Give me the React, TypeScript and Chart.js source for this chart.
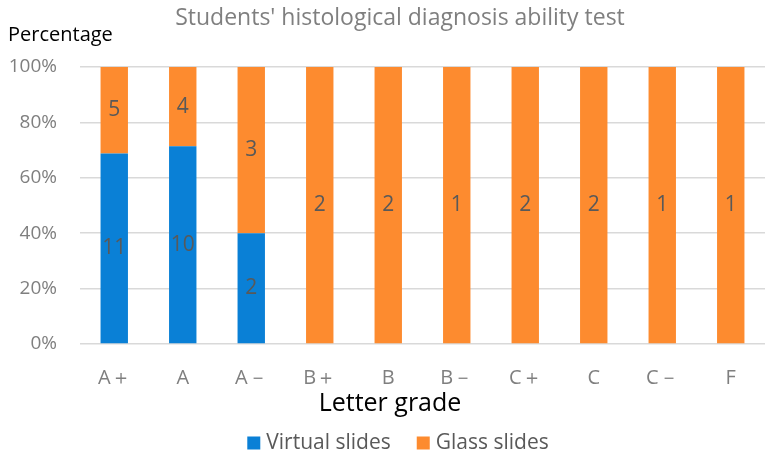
import React, { useEffect, useRef } from "react";
import { Chart, registerables } from "chart.js";

Chart.register(...registerables);

const categories = ["A＋", "A", "A－", "B＋", "B", "B－", "C＋", "C", "C－", "F"];
const seriesNames = ["Virtual slides", "Glass slides"];
const virtualCounts = [11, 10, 2, 0, 0, 0, 0, 0, 0, 0];
const glassCounts = [5, 4, 3, 2, 2, 1, 2, 2, 1, 1];
const yTicks = [0, 20, 40, 60, 80, 100];

const FONT = "'Open Sans', 'Noto Sans', sans-serif";
const BLUE = "#0a80d6";
const ORANGE = "#fd8b2f";

const totals = categories.map((_, i) => virtualCounts[i] + glassCounts[i]);
const virtualPct = virtualCounts.map((v, i) => (v / totals[i]) * 100);
const glassPct = glassCounts.map((v, i) => (v / totals[i]) * 100);

const textPlugin = {
  id: "customText",
  afterDatasetsDraw(chart: any) {
    const ctx = chart.ctx;
    const counts = [virtualCounts, glassCounts];
    ctx.save();
    ctx.font = `21px ${FONT}`;
    ctx.fillStyle = "#595959";
    ctx.textAlign = "center";
    ctx.textBaseline = "middle";
    chart.data.datasets.forEach((_: any, di: number) => {
      const meta = chart.getDatasetMeta(di);
      meta.data.forEach((el: any, i: number) => {
        const c = counts[di][i];
        if (!c) return;
        ctx.fillText(String(c), el.x, (el.y + el.base) / 2);
      });
    });
    ctx.restore();
  },
  afterDraw(chart: any) {
    const ctx = chart.ctx;
    const area = chart.chartArea;
    ctx.save();
    ctx.textBaseline = "middle";
    ctx.textAlign = "center";
    ctx.fillStyle = "#7f7f7f";
    ctx.font = `23px ${FONT}`;
    ctx.fillText("Students' histological diagnosis ability test", 400, 18);
    ctx.fillStyle = "#000000";
    ctx.font = `20px ${FONT}`;
    ctx.textAlign = "left";
    ctx.fillText("Percentage", 8, 35);
    ctx.textAlign = "center";
    ctx.font = `25px ${FONT}`;
    ctx.fillText("Letter grade", 390, area.bottom + 60);

    // legend
    ctx.font = `21px ${FONT}`;
    const colors = chart.data.datasets.map((d: any) => d.backgroundColor);
    const box = 13;
    const gapBoxText = 6;
    const gapItems = 26;
    const widths = seriesNames.map((n) => ctx.measureText(n).width);
    const total = widths.reduce((s, w) => s + box + gapBoxText + w, 0) + gapItems;
    let x = 398 - total / 2;
    const cy = area.bottom + 99;
    ctx.textAlign = "left";
    seriesNames.forEach((n, i) => {
      ctx.fillStyle = colors[i];
      ctx.fillRect(x, cy - box / 2, box, box);
      x += box + gapBoxText;
      ctx.fillStyle = "#595959";
      ctx.fillText(n, x, cy);
      x += widths[i] + gapItems;
    });
    ctx.restore();
  },
};

export default function App() {
  const ref = useRef<HTMLCanvasElement | null>(null);

  useEffect(() => {
    document.body.style.margin = "0";
    const canvas = ref.current;
    if (!canvas) return;
    const chart = new Chart(canvas, {
      type: "bar",
      data: {
        labels: categories,
        datasets: [
          {
            label: seriesNames[0],
            data: virtualPct,
            backgroundColor: BLUE,
            borderWidth: 0,
            barPercentage: 0.8,
            categoryPercentage: 0.5,
          },
          {
            label: seriesNames[1],
            data: glassPct,
            backgroundColor: ORANGE,
            borderWidth: 0,
            barPercentage: 0.8,
            categoryPercentage: 0.5,
          },
        ],
      },
      options: {
        animation: false,
        responsive: false,
        maintainAspectRatio: false,
        layout: { padding: { left: 0, right: 5, top: 67, bottom: 0 } },
        plugins: {
          title: { display: false },
          tooltip: { enabled: false },
          legend: { display: false },
        },
        scales: {
          x: {
            stacked: true,
            grid: { display: false },
            border: { display: false },
            ticks: {
              color: "#7f7f7f",
              font: { family: FONT, size: 20 },
              padding: 14,
              maxRotation: 0,
            },
            afterFit: (scale: any) => {
              scale.height = 112;
            },
          },
          y: {
            stacked: true,
            min: 0,
            max: 100,
            afterBuildTicks: (scale: any) => {
              scale.ticks = yTicks.map((v) => ({ value: v }));
            },
            grid: { color: "#d9d9d9", lineWidth: 1.5, drawTicks: false },
            border: { display: false },
            ticks: {
              color: "#7f7f7f",
              font: { family: FONT, size: 19 },
              padding: 23,
              callback: (v: any) => `${v}%`,
            },
            afterFit: (scale: any) => {
              scale.width = 80;
            },
          },
        },
      },
      plugins: [textPlugin],
    });
    return () => chart.destroy();
  }, []);

  return (
    <div style={{ position: "absolute", left: 0, top: 0, width: 770, height: 456, background: "#fff" }}>
      <canvas ref={ref} width={770} height={456} style={{ width: 770, height: 456 }} />
    </div>
  );
}
